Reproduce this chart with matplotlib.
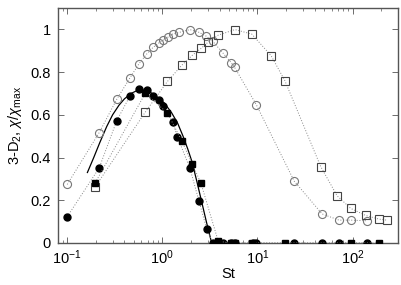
import matplotlib
matplotlib.use("Agg")
import matplotlib.pyplot as plt
from matplotlib.ticker import LogLocator, NullFormatter, FixedLocator

plt.rcParams['font.family'] = ['Liberation Sans', 'DejaVu Sans']
plt.rcParams['mathtext.fontset'] = 'custom'
plt.rcParams['mathtext.rm'] = 'Liberation Sans'
plt.rcParams['mathtext.it'] = 'Liberation Sans:italic'

# open circles (chi/chi_max)
st_oc = [0.1, 0.217, 0.332, 0.455, 0.57, 0.686, 0.80, 0.916, 1.02, 1.15, 1.28, 1.51,
         1.95, 2.43, 2.87, 3.39, 4.3, 5.3, 5.75, 9.7, 24.3, 47.8, 72, 95.5, 143]
y_oc = [0.274, 0.517, 0.673, 0.772, 0.84, 0.885, 0.916, 0.936, 0.95, 0.964, 0.978, 0.986,
        0.999, 0.986, 0.969, 0.944, 0.891, 0.844, 0.822, 0.648, 0.29, 0.136, 0.107, 0.107, 0.104]

# open squares
st_os = [0.197, 0.66, 1.13, 1.6, 2.07, 2.55, 3.04, 3.87, 5.8, 8.7, 13.9, 19.4,
         46.3, 68.7, 95.5, 137, 189, 229]
y_os = [0.263, 0.612, 0.756, 0.832, 0.879, 0.911, 0.941, 0.973, 0.999, 0.978, 0.877, 0.760,
        0.357, 0.221, 0.162, 0.129, 0.112, 0.107]

# filled circles (3-D2)
st_fc = [0.1, 0.217, 0.332, 0.455, 0.57, 0.686, 0.80, 0.916, 1.02, 1.28, 1.44,
         1.95, 2.43, 2.93, 3.39, 4.36, 5.3, 5.75, 9.0, 9.7, 24.3, 47.8, 72, 143]
y_fc = [0.123, 0.352, 0.573, 0.687, 0.72, 0.715, 0.69, 0.668, 0.64, 0.567, 0.497,
        0.349, 0.196, 0.064, 0.0, 0.0, 0.0, 0.0, 0.0, 0.0, 0.0, 0.0, 0.0, 0.0]

# filled squares
st_fs = [0.197, 0.66, 1.13, 1.6, 2.07, 2.55, 3.87, 5.3, 5.8, 8.7, 19.4, 95.5, 189]
y_fs = [0.282, 0.70, 0.609, 0.478, 0.369, 0.279, 0.008, 0.0, 0.0, 0.0, 0.0, 0.0, 0.0]

# solid curve
st_line = [0.163, 0.19, 0.22, 0.26, 0.3, 0.35, 0.4, 0.47, 0.55, 0.65, 0.75, 0.9,
           1.05, 1.25, 1.45, 1.65, 1.85, 2.05, 2.3, 2.6, 2.9, 3.3]
y_line = [0.33, 0.40, 0.47, 0.545, 0.60, 0.645, 0.675, 0.70, 0.715, 0.715, 0.705, 0.68,
          0.655, 0.61, 0.56, 0.50, 0.44, 0.38, 0.29, 0.19, 0.10, 0.0]

fig = plt.figure(figsize=(4.01, 2.85), dpi=100)
ax = fig.add_axes([58/401, 42/285, 340/401, 235/285])

dot = (0, (1, 1.8))
lc = '#888888'
ax.plot(st_oc, y_oc, linestyle=dot, color=lc, lw=0.7, marker='o', ms=5.8,
        mfc='none', mec='#777777', mew=0.8, zorder=3)
ax.plot(st_os, y_os, linestyle=dot, color=lc, lw=0.7, marker='s', ms=5.8,
        mfc='none', mec='#444444', mew=0.8, zorder=3)
ax.plot(st_fc, y_fc, linestyle=dot, color=lc, lw=0.7, marker='o', ms=5.0,
        mfc='black', mec='black', zorder=4)
ax.plot(st_fs, y_fs, linestyle=dot, color=lc, lw=0.7, marker='s', ms=4.8,
        mfc='black', mec='black', zorder=4)
ax.plot(st_line, y_line, '-', color='black', lw=0.9, zorder=2)

ax.set_xscale('log')
ax.set_xlim(0.08, 300)
ax.set_ylim(0, 1.1)
ax.yaxis.set_major_locator(FixedLocator([0, 0.2, 0.4, 0.6, 0.8, 1.0]))
ax.set_yticklabels(['0', '0.2', '0.4', '0.6', '0.8', '1'])
ax.xaxis.set_major_locator(LogLocator(base=10, numticks=10))
ax.xaxis.set_minor_locator(LogLocator(base=10, subs=range(2, 10), numticks=20))
ax.xaxis.set_minor_formatter(NullFormatter())

for s in ax.spines.values():
    s.set_color('#555555')
    s.set_linewidth(1.0)
ax.tick_params(which='both', direction='in', top=True, right=True, colors='#555555',
               labelcolor='black', labelsize=10.5)
ax.tick_params(which='major', length=4, width=0.6)
ax.tick_params(which='minor', length=2, width=0.5)
ax.tick_params(axis='x', pad=4)
ax.tick_params(axis='y', pad=5)

ax.set_xlabel('St', fontsize=10.5, labelpad=0)
ax.set_ylabel(r'3-D$_2$, $\chi/\chi_{\mathrm{max}}$', fontsize=10.5, labelpad=5)

fig.savefig('out.png', dpi=100)
